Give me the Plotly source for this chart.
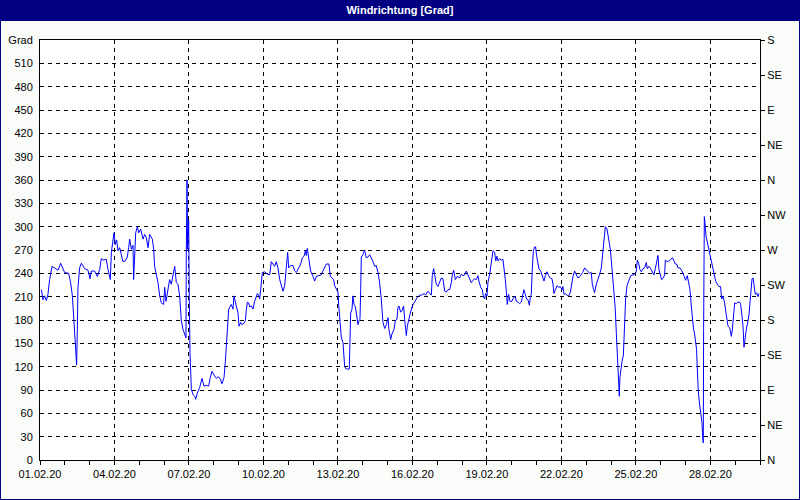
import pandas as pd
import plotly.graph_objects as go

# ---- data (hours since 01.02.2020 00:00, wind direction in degrees) ----
hours = [
    1.3, 2.9, 4.5, 6.1, 7.7, 9.3, 11.6, 15.8, 17.4, 20.0, 22.2, 23.8, 27.7, 29.6, 31.3, 32.9, 34.2, 35.4, 36.1, 36.7,
    38.3, 40.0, 43.2, 46.4, 48.3, 49.6, 52.8, 55.4, 57.7, 59.3, 60.9, 64.1, 65.7, 68.0, 69.0, 70.2, 71.5, 72.8, 74.1, 75.4,
    77.0, 78.6, 80.2, 82.5, 84.4, 85.7, 86.7, 88.3, 89.9, 90.5, 91.5, 92.5, 94.1, 95.4, 97.3, 99.6, 101.2, 102.8, 104.4, 106.0,
    108.6, 109.9, 110.8, 112.4, 114.1, 115.7, 117.3, 119.5, 120.5, 121.8, 123.7, 125.3, 126.9, 128.6, 130.2, 131.8, 133.4, 135.0, 136.6, 138.2,
    139.8, 141.1, 141.4, 142.1, 142.7, 143.7, 144.3, 145.0, 146.3, 147.9, 149.5, 150.5, 152.1, 154.3, 156.6, 158.5, 160.8, 163.0, 164.6, 166.3,
    168.8, 170.4, 172.1, 174.0,
    175.9, 177.9, 179.1, 180.1, 181.1, 182.4, 184.9, 186.6, 187.5, 188.2, 189.8, 191.4, 192.4, 194.0, 195.3, 197.2, 198.5, 199.4, 200.4, 201.7,
    202.7, 204.3, 205.9, 207.5, 209.1, 210.1, 211.4, 212.3, 213.3, 214.9, 217.2, 219.7, 222.0, 223.6, 225.2, 226.8, 228.4, 230.1, 231.7, 233.3,
    234.9, 236.5, 237.5, 238.4, 239.4, 240.4, 242.3, 244.6, 246.2, 247.8, 249.4, 252.0, 253.6, 255.2, 256.5, 257.4, 258.4, 259.7, 261.6, 263.9,
    265.5, 267.1, 269.3, 271.9, 273.5, 275.2, 276.8, 279.3, 280.6, 282.3, 283.9, 284.8, 286.4, 288.1, 288.7, 290.0, 291.3, 292.9, 293.9, 294.5,
    296.1, 299.0, 299.6, 300.3, 301.6, 302.5, 303.5, 304.8, 305.8, 307.4, 308.4, 309.3, 310.0, 310.6, 312.2, 313.8, 315.4, 317.1, 318.7, 320.3,
    321.9, 323.5, 325.1, 326.7, 328.3, 329.9, 331.5, 333.2, 334.8, 336.4, 337.3, 339.0, 340.2, 342.2, 343.5, 345.1, 346.0, 347.0,
    348.6, 349.9, 351.5, 352.5, 354.1, 355.1, 356.3, 358.0, 359.9, 362.2, 364.7, 367.0, 369.2, 371.2, 372.8, 375.0, 376.7, 378.3, 379.2, 380.5,
    381.5, 383.1, 384.7, 386.3, 387.9, 389.5, 391.2, 392.8, 394.4, 396.0, 397.6, 398.6, 399.9, 401.5, 403.4, 405.6, 407.3, 408.9, 410.5, 412.1,
    413.7, 415.3, 416.9, 418.5, 420.1, 421.8, 423.4, 424.3, 426.0, 427.6, 428.5, 429.8, 430.8, 432.1, 433.0, 434.7, 436.3, 437.9, 439.5, 440.5,
    441.7, 442.7, 444.3, 445.9, 447.5, 448.5, 449.8, 450.8, 451.7, 453.0, 454.3, 456.2, 457.8, 459.5, 460.4, 462.0, 463.6, 465.3, 466.2, 467.8,
    469.1, 470.4, 471.7, 473.0, 474.0, 474.9, 475.9, 476.9, 478.2, 479.1, 480.1, 481.4, 482.3, 484.0, 485.6, 487.2, 488.5, 490.1, 491.7, 493.3,
    494.9, 495.9, 496.8, 498.1, 499.7, 501.4, 503.0, 504.6, 505.5, 506.5, 507.8, 509.4, 511.0, 512.6, 513.6, 515.2, 516.8, 518.4, 520.0, 522.0,
    524.5, 526.5, 528.1, 529.7, 531.3, 532.9, 533.9, 535.2, 536.1, 537.8, 539.4, 541.0, 542.6, 544.2, 545.2, 546.5, 548.1, 549.7, 551.3, 552.2,
    553.5, 554.8, 556.1, 557.1, 558.0, 558.7, 559.3, 560.0, 560.6, 561.3, 562.6, 563.9, 564.5, 565.2, 566.1, 567.4, 569.0, 571.0, 573.2, 574.8,
    576.4, 577.4, 578.7, 579.9, 581.3, 582.9, 584.5, 586.1, 587.1, 588.7, 590.3, 591.6, 593.5, 594.8, 596.1, 597.4, 598.3, 599.6, 600.9, 602.5,
    603.8, 604.5, 606.4, 608.3, 610.3, 611.5, 612.8, 614.1, 615.4, 616.7, 618.6, 620.6, 622.5, 624.1, 625.7, 627.0, 628.3, 629.6, 630.5, 631.8,
    632.8, 633.7, 634.7, 635.4, 636.3, 637.6, 638.9, 639.9, 640.5, 641.2, 641.5, 642.2, 642.8, 643.8, 645.0, 646.3, 647.6, 648.9, 650.2, 651.5,
    653.1, 654.7, 656.3, 657.9, 658.9, 660.2, 661.8, 663.4, 665.1, 666.7, 668.3, 669.3, 670.5, 671.5, 673.1, 674.7, 676.4, 677.3, 678.6, 679.6,
    680.5, 681.5, 682.8, 684.4, 685.4, 686.3, 687.3, 688.3, 689.3, 690.2, 691.5, 692.8, 694.1, 695.0,
]
direction = [
    219, 206, 211, 205, 213, 232, 249, 245, 244, 253, 245, 241, 240, 228, 211, 179, 151, 122, 168, 222,
    247, 253, 246, 244, 233, 243, 243, 236, 245, 259, 257, 258, 245, 232, 267, 283, 292, 277, 283, 269,
    273, 264, 255, 256, 261, 273, 284, 271, 276, 232, 267, 292, 300, 292, 297, 284, 290, 286, 273, 290,
    284, 271, 249, 239, 228, 211, 202, 200, 222, 204, 217, 232, 226, 237, 249, 228, 226, 211, 179, 168,
    162, 157, 258, 360, 271, 309, 209, 138, 91, 84, 82, 78, 86, 93, 105, 95, 96, 95, 106, 114,
    108, 105, 107, 105,
    98, 106, 125, 151, 177, 194, 200, 194, 211, 206, 198, 189, 172, 177, 174, 176, 179, 192, 203, 202,
    197, 198, 194, 204, 209, 214, 212, 207, 219, 241, 242, 239, 238, 255, 252, 249, 255, 247, 232, 224,
    217, 224, 239, 258, 267, 247, 250, 250, 243, 241, 245, 252, 260, 262, 269, 263, 272, 260, 243, 236,
    230, 236, 237, 238, 243, 249, 252, 252, 236, 234, 232, 224, 219, 216, 200, 181, 157, 151, 132, 120,
    117, 117, 151, 189, 194, 211, 200, 197, 189, 174, 179, 181, 219, 261, 264, 270, 260, 261, 264, 260,
    255, 249, 250, 241, 228, 207, 177, 169, 174, 183, 168, 155, 162, 168, 179, 181, 196, 198,
    190, 192, 198, 181, 160, 172, 181, 189, 198, 203, 209, 212, 212, 214, 212, 217, 214, 212, 237, 246,
    238, 226, 223, 230, 234, 233, 217, 216, 219, 219, 228, 238, 244, 232, 236, 234, 239, 237, 238, 243,
    238, 234, 228, 231, 233, 232, 237, 230, 222, 219, 211, 207, 214, 211, 228, 239, 252, 269, 267, 256,
    262, 256, 259, 257, 258, 249, 232, 217, 200, 213, 204, 204, 209, 210, 204, 203, 201, 203, 211, 219,
    213, 207, 206, 199, 209, 213, 246, 269, 274, 274, 262, 254, 246, 243, 237, 230, 237, 242, 237, 234,
    233, 226, 214, 220, 224, 222, 223, 219, 223, 213, 214, 212, 211, 215, 226, 236, 243, 239, 234, 236,
    241, 247, 245, 242, 240, 241, 226, 219, 215, 226, 232, 239, 247, 271, 288, 300, 297, 286, 271, 258,
    237, 211, 194, 164, 140, 121, 95, 82, 106, 117, 127, 134, 153, 185, 207, 224, 230, 237, 238, 239,
    242, 257, 253, 245, 242, 246, 247, 254, 246, 249, 246, 243, 238, 246, 254, 263, 245, 237, 232, 234,
    238, 257, 255, 256, 258, 260, 256, 252, 252, 247, 247, 243, 237, 231, 237, 228, 219, 198, 183, 168,
    162, 155, 142, 117, 89, 72, 61, 48, 31, 22, 168, 313, 305, 288, 280, 273, 267, 258, 249, 237,
    230, 226, 223, 223, 207, 211, 202, 187, 172, 170, 159, 168, 185, 202, 201, 203, 203, 200, 185, 172,
    145, 157, 168, 179, 187, 202, 226, 233, 234, 224, 213, 215, 210, 214,
]

start = pd.Timestamp("2020-02-01")
x_ticks = pd.date_range("2020-02-01", "2020-02-28", freq="3D")
x_ticktext = [d.strftime("%d.%m.%y") for d in x_ticks]
left_ticks = list(range(0, 541, 30))
left_ticktext = [str(v) for v in left_ticks[:-1]] + ["Grad"]
right_ticks = list(range(0, 541, 45))
right_ticktext = ["N", "NE", "E", "SE", "S", "SW", "W", "NW", "N", "NE", "E", "SE", "S"]

times = start + pd.to_timedelta(hours, unit="h")

FONT = "Liberation Sans"
NAVY = "#000080"
BG = "#F9FCF9"

fig = go.Figure()
fig.add_trace(go.Scatter(x=times, y=direction, mode="lines",
                         line=dict(color="#0000FF", width=1),
                         showlegend=False, hoverinfo="skip"))
fig.add_trace(go.Scatter(x=[times[0]], y=[None], yaxis="y2", mode="lines",
                         showlegend=False, hoverinfo="skip"))

W, H = 800, 500
L, R, T, B = 40, 40, 40, 40
pw, ph = W - L - R, H - T - B

def px_x(p):
    return (p - L) / pw

def px_y(p):
    return (H - B - p) / ph

fig.update_layout(
    width=W, height=H,
    margin=dict(l=L, r=R, t=T, b=B, pad=0, autoexpand=False),
    paper_bgcolor=BG, plot_bgcolor="#FFFFFF",
    font=dict(family=FONT, size=11, color="black"),
    title=dict(text="<b>Windrichtung [Grad]</b>", x=0.5, xanchor="center",
               y=1 - 10.5 / H, yanchor="middle", yref="container",
               font=dict(family=FONT, size=11, color="white")),
    xaxis=dict(type="date", range=[start, pd.Timestamp("2020-03-01")],
               tickvals=x_ticks, ticktext=x_ticktext, automargin=False,
               showgrid=True, gridcolor="black", gridwidth=1, griddash="4px,4px",
               showline=True, linecolor="black", linewidth=1, mirror=True,
               ticks="outside", ticklen=4, tickcolor="black",
               minor=dict(dtick=86400000, ticks="outside", ticklen=4, tickcolor="black", showgrid=False),
               tickfont=dict(size=11, color="black"), zeroline=False),
    yaxis=dict(range=[0, 540], tickvals=left_ticks, ticktext=left_ticktext, automargin=False,
               showgrid=True, gridcolor="black", gridwidth=1, griddash="4px,4px",
               showline=True, linecolor="black", linewidth=1, mirror=True,
               ticks="", ticklabelstandoff=4, zeroline=False,
               tickfont=dict(size=11, color="black")),
    yaxis2=dict(range=[0, 540], overlaying="y", side="right", automargin=False,
                tickvals=right_ticks, ticktext=right_ticktext,
                showgrid=False, zeroline=False, showline=False,
                ticks="outside", ticklen=4, tickcolor="black",
                tickfont=dict(size=11, color="black")),
    shapes=[
        dict(type="rect", xref="paper", yref="paper",
             x0=px_x(0), x1=px_x(W), y0=px_y(21), y1=px_y(0),
             fillcolor=NAVY, line=dict(width=0), layer="below"),
        dict(type="rect", xref="paper", yref="paper",
             x0=px_x(0.5), x1=px_x(W - 0.5), y0=px_y(H - 0.5), y1=px_y(0.5),
             fillcolor="rgba(0,0,0,0)", line=dict(color=NAVY, width=1), layer="above"),
    ],
)

fig.write_html("out.html",
               config={"displayModeBar": False},
               post_script="document.body.style.margin='0px';document.body.style.overflow='hidden';")
